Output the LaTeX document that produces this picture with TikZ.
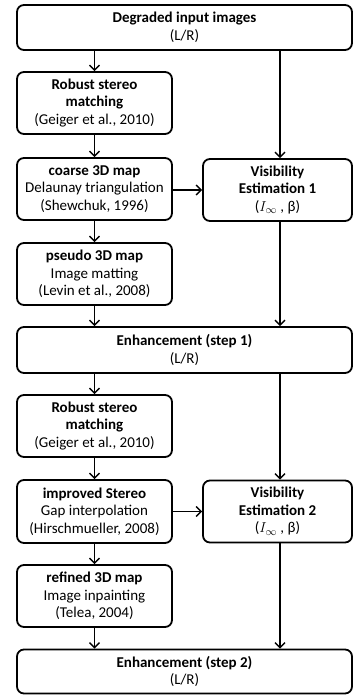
\documentclass[tikz,border=0pt]{standalone}
\usepackage{fontspec}
\setmainfont{Carlito}
\usetikzlibrary{arrows.meta}
\begin{document}
\begin{tikzpicture}[x=1pt,y=-1pt,
  box/.style={draw, line width=1.8pt, rounded corners=7pt, align=center, inner sep=0pt,
    font=\fontsize{15}{17.5}\selectfont},
  smallbox/.style={box, minimum width=155pt, minimum height=62pt},
  widebox/.style={box, minimum width=335pt},
  visbox/.style={box, minimum width=149pt, minimum height=62pt},
  arr/.style={line width=1.4pt, -{Straight Barb[length=5pt,width=10pt,line width=1.4pt]}}]
\useasboundingbox (0,0) rectangle (353,698);
\node[widebox, minimum height=45pt] (top) at (184.5,27.5) {\textbf{Degraded input images}\\(L/R)};
\node[smallbox] (r1) at (94.5,103) {\textbf{Robust stereo}\\\textbf{matching}\\(Geiger et al., 2010)};
\node[smallbox] (c) at (94.5,189) {\textbf{coarse 3D map}\\Delaunay triangulation\\(Shewchuk, 1996)};
\node[visbox] (v1) at (277.5,190) {\textbf{Visibility}\\\textbf{Estimation 1}\\($I_\infty$ , β)};
\node[smallbox] (p) at (94.5,274) {\textbf{pseudo 3D map}\\Image matting\\(Levin et al., 2008)};
\node[widebox, minimum height=46pt] (e1) at (184.5,350) {\textbf{Enhancement (step 1)}\\(L/R)};
\node[smallbox] (r2) at (94.5,426) {\textbf{Robust stereo}\\\textbf{matching}\\(Geiger et al., 2010)};
\node[smallbox, minimum height=63pt] (im) at (94.5,511.5) {\textbf{improved Stereo}\\Gap interpolation\\(Hirschmueller, 2008)};
\node[visbox] (v2) at (277.5,511.5) {\textbf{Visibility}\\\textbf{Estimation 2}\\($I_\infty$ , β)};
\node[smallbox] (rf) at (94.5,596) {\textbf{refined 3D map}\\Image inpainting\\(Telea, 2004)};
\node[widebox, minimum height=44pt] (e2) at (184.5,671.5) {\textbf{Enhancement (step 2)}\\(L/R)};
\draw[arr] (r1.north |- top.south) -- (r1.north);
\draw[arr] ([xshift=2.5pt]v1.north |- top.south) -- ([xshift=2.5pt]v1.north);
\draw[arr] (r1) -- (c);
\draw[arr] (c.east |- v1.west) -- (v1.west);
\draw[arr] (c) -- (p);
\draw[arr] (p.south) -- (p.south |- e1.north);
\draw[arr] ([xshift=2.5pt]v1.south) -- ([xshift=2.5pt]v1.south |- e1.north);
\draw[arr] (r2.north |- e1.south) -- (r2.north);
\draw[arr] ([xshift=2.5pt]v2.north |- e1.south) -- ([xshift=2.5pt]v2.north);
\draw[arr] (r2) -- (im);
\draw[arr] (im) -- (v2);
\draw[arr] (im) -- (rf);
\draw[arr] (rf.south) -- (rf.south |- e2.north);
\draw[arr] ([xshift=2.5pt]v2.south) -- ([xshift=2.5pt]v2.south |- e2.north);
\end{tikzpicture}
\end{document}
